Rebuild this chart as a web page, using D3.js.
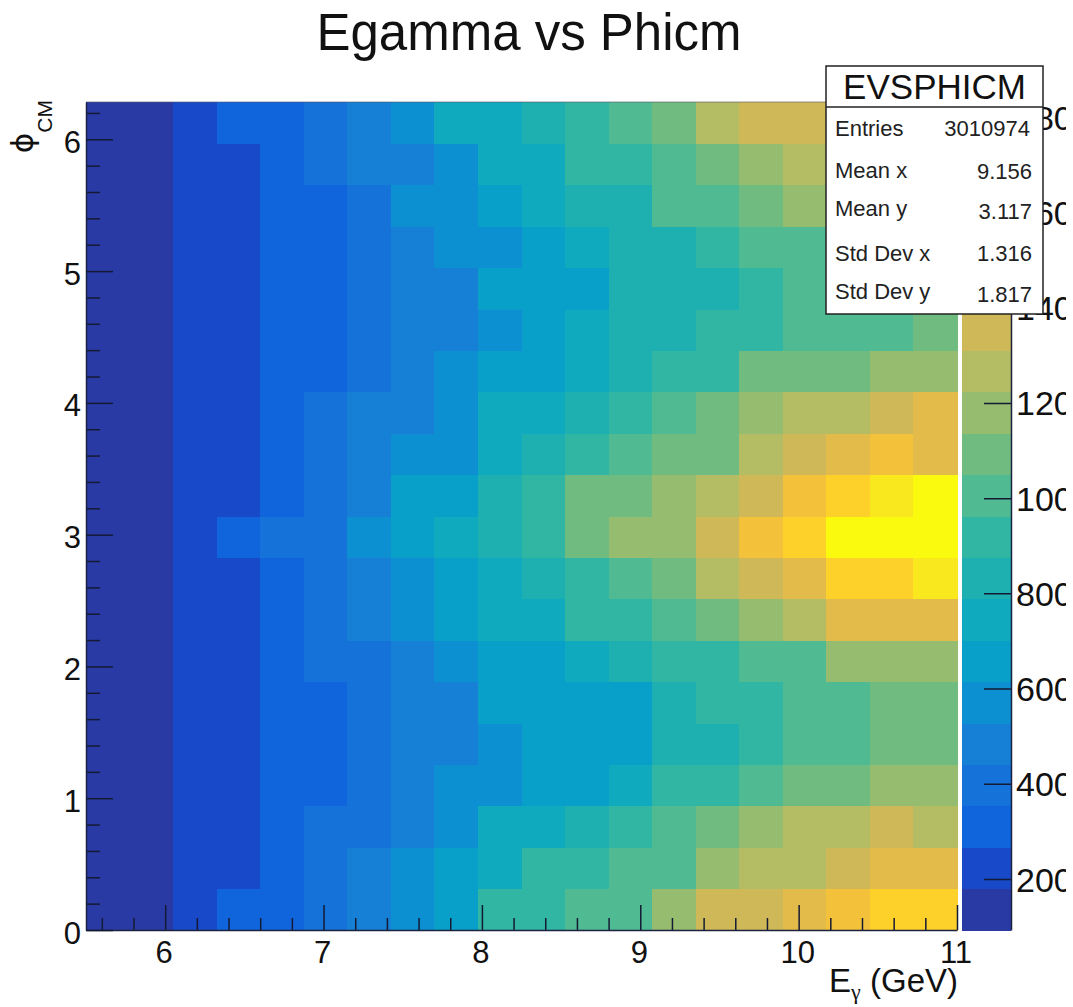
<!DOCTYPE html>
<html>
<head>
<meta charset="utf-8">
<title>Egamma vs Phicm</title>
<script src="https://d3js.org/d3.v7.min.js"></script>
<style>
  html, body { margin: 0; padding: 0; background: #fff; }
  svg { display: block; }
  text { font-family: "Liberation Sans", Arial, sans-serif; fill: #111; }
  .axis path { stroke: #1c2340; stroke-width: 1.5; }
  .axis line { stroke: #141a33; stroke-width: 1.5; }
  .axis text { font-family: "Liberation Sans", Arial, sans-serif; font-size: 31px; fill: #111; }
  .axis.zaxis text { font-size: 34px; }
</style>
</head>
<body>
<svg id="chart" width="1073" height="1007"></svg>
<script>
// counts per bin, one list per phi row, lowest phi first, 20 Egamma bins each
var row00 = [130,130,220,310,310,390,480,570,650,920,920,1000,1000,1180,1350,1350,1440,1530,1610,1610]
var row01 = [130,130,220,220,310,390,480,570,650,740,920,920,1000,1000,1180,1260,1260,1350,1440,1440]
var row02 = [130,130,220,220,310,390,390,480,570,740,740,830,920,1000,1090,1180,1260,1260,1350,1260]
var row03 = [130,130,220,220,310,310,390,480,570,570,650,650,740,920,920,1000,1090,1090,1180,1180]
var row04 = [130,130,220,220,310,310,390,480,480,570,650,650,650,830,830,920,1000,1000,1090,1090]
var row05 = [130,130,220,220,310,310,390,480,480,650,650,650,650,830,920,920,1000,1000,1090,1090]
var row06 = [130,130,220,220,310,390,390,480,570,650,650,740,830,920,920,1000,1000,1180,1180,1180]
var row07 = [130,130,220,220,310,390,480,570,650,740,740,920,920,1000,1090,1180,1260,1440,1440,1440]
var row08 = [130,130,220,220,310,390,480,570,650,740,830,920,1000,1090,1260,1350,1440,1610,1610,1700]
var row09 = [130,130,220,310,390,390,570,650,740,830,920,1090,1180,1180,1350,1530,1610,1790,1790,1790]
var row10 = [130,130,220,220,310,390,480,650,650,830,920,1090,1090,1180,1260,1350,1530,1610,1700,1790]
var row11 = [130,130,220,220,310,390,480,570,570,740,830,920,1000,1090,1090,1260,1350,1440,1530,1440]
var row12 = [130,130,220,220,310,390,480,480,570,740,740,830,920,1000,1090,1180,1260,1260,1350,1440]
var row13 = [130,130,220,220,310,310,390,480,570,650,650,740,830,920,920,1090,1090,1090,1180,1180]
var row14 = [130,130,220,220,310,310,390,480,480,570,650,740,830,830,920,920,1000,1000,1000,1090]
var row15 = [130,130,220,220,310,310,390,480,480,650,650,650,830,830,830,920,1000,1000,1000,1000]
var row16 = [130,130,220,220,310,310,390,480,570,570,650,740,830,830,920,1000,1000,1000,1090,1090]
var row17 = [130,130,220,220,310,310,390,570,570,650,740,830,830,1000,1000,1090,1180,1180,1180,1180]
var row18 = [130,130,220,220,310,390,480,480,570,740,740,920,920,1000,1090,1180,1260,1260,1260,1260]
var row19 = [130,130,220,310,310,390,480,570,740,740,830,920,1000,1090,1260,1350,1350,1350,1350,1350]
var rows = [row00,row01,row02,row03,row04,row05,row06,row07,row08,row09,
            row10,row11,row12,row13,row14,row15,row16,row17,row18,row19]

var xDomain = [5.5, 11]
var yDomain = [0, 6.283]
var zDomain = [93, 1832]
var xTicks = [6, 7, 8, 9, 10, 11]
var yTicks = [0, 1, 2, 3, 4, 5, 6]
var zTicks = [200, 400, 600, 800, 1000, 1200, 1400, 1600, 1800]

// ROOT kBird, cut into 20 contours
var palette = ['#2a3aa5','#1849c9','#1065dc','#1472d9','#1580d5','#0d90d2','#08a0c8','#10aabe',
  '#1eb0b0','#30b6a2','#50ba92','#70bc80','#96bc70','#b4bc64','#ceb858','#e3bb4a',
  '#f3c23a','#fdd02a','#fae81e','#fafa0f']

var statNames = ['Entries', 'Mean x', 'Mean y', 'Std Dev x', 'Std Dev y']
var statValues = ['3010974', '9.156', '3.117', '1.316', '1.817']

var svg = d3.select('#chart')
var margin = {top: 102, left: 86, bottom: 930, right: 957}

var x = d3.scaleLinear().domain(xDomain).range([margin.left, margin.right])
var y = d3.scaleLinear().domain(yDomain).range([margin.bottom, margin.top])
var z = d3.scaleLinear().domain(zDomain).range([margin.bottom, margin.top])
var color = d3.scaleQuantize().domain(zDomain).range(palette)

var xStep = (xDomain[1] - xDomain[0]) / rows[0].length
var yStep = (yDomain[1] - yDomain[0]) / rows.length

// heat map cells
rows.forEach(function(row, r) {
  svg.append('g')
    .attr('shape-rendering', 'crispEdges')
    .selectAll('rect')
    .data(row)
    .join('rect')
    .attr('x', function(d, i) { return x(xDomain[0] + i * xStep) })
    .attr('width', function(d, i) { return x(xDomain[0] + (i + 1) * xStep) - x(xDomain[0] + i * xStep) + 0.5 })
    .attr('y', y(yDomain[0] + (r + 1) * yStep))
    .attr('height', y(yDomain[0] + r * yStep) - y(yDomain[0] + (r + 1) * yStep) + 0.5)
    .attr('fill', function(d) { return color(d) })
})

// thin frame on top of the plot
svg.append('line')
  .attr('x1', margin.left).attr('x2', margin.right)
  .attr('y1', margin.top).attr('y2', margin.top)
  .attr('stroke', '#556').attr('stroke-width', 1).attr('stroke-opacity', 0.6)

// minor ticks
var xMinor = d3.range(5.6, 11, 0.2).filter(function(v) { return Math.abs(v - Math.round(v)) > 0.05 })
var yMinor = d3.range(0.2, 6.28, 0.2).filter(function(v) { return Math.abs(v - Math.round(v)) > 0.05 })

svg.append('g').attr('class', 'axis')
  .attr('transform', 'translate(0,' + margin.bottom + ')')
  .call(d3.axisBottom(x).tickValues(xMinor).tickSize(-12).tickFormat(''))
  .select('.domain').remove()
svg.append('g').attr('class', 'axis')
  .attr('transform', 'translate(' + margin.left + ',0)')
  .call(d3.axisLeft(y).tickValues(yMinor).tickSize(-14).tickFormat(''))
  .select('.domain').remove()

// major axes
var xAxis = svg.append('g').attr('class', 'axis')
  .attr('transform', 'translate(0,' + margin.bottom + ')')
  .call(d3.axisBottom(x).tickValues(xTicks).tickSizeInner(-25).tickSizeOuter(0).tickFormat(d3.format('d')))
xAxis.selectAll('text').attr('x', -1.5).attr('y', 33).attr('dy', 0)

var yAxis = svg.append('g').attr('class', 'axis')
  .attr('transform', 'translate(' + margin.left + ',0)')
  .call(d3.axisLeft(y).tickValues(yTicks).tickSizeInner(-27).tickSizeOuter(0).tickFormat(d3.format('d')))
yAxis.selectAll('text').attr('x', -5).attr('y', 13).attr('dy', 0)

// colour bar
var barLeft = 961.5, barRight = 1011
svg.append('defs').append('clipPath').attr('id', 'zclip')
  .append('rect').attr('x', barLeft).attr('y', 0).attr('width', 1066 - barLeft).attr('height', 1007)

svg.append('g')
  .attr('shape-rendering', 'crispEdges')
  .selectAll('rect')
  .data(palette)
  .join('rect')
  .attr('x', barLeft)
  .attr('width', barRight - barLeft)
  .attr('y', function(d) { return z(color.invertExtent(d)[1]) })
  .attr('height', function(d) { return z(color.invertExtent(d)[0]) - z(color.invertExtent(d)[1]) + 0.5 })
  .attr('fill', function(d) { return d })

// labels run off the canvas in the original, the clip sits on an outer group
var zAxis = svg.append('g')
  .attr('clip-path', 'url(#zclip)')
  .append('g').attr('class', 'axis zaxis')
  .attr('transform', 'translate(' + barRight + ',0)')
zAxis.call(d3.axisRight(z).tickValues(zTicks).tickSizeInner(-27).tickSizeOuter(0).tickFormat(d3.format('d')))
zAxis.selectAll('text').attr('x', 5).attr('y', 12).attr('dy', 0).attr('text-anchor', 'start')

// titles
svg.append('text')
  .attr('x', 529).attr('y', 50)
  .attr('text-anchor', 'middle')
  .style('font-size', '51px')
  .text('Egamma vs Phicm')

var xTitle = svg.append('text')
  .attr('x', 958).attr('y', 992)
  .attr('text-anchor', 'end')
  .style('font-size', '33px')
xTitle.append('tspan').text('E')
xTitle.append('tspan').attr('dy', 7).style('font-size', '22px')
  .style('font-family', '"Liberation Serif", serif').text('γ')
xTitle.append('tspan').attr('dy', -7).text(' (GeV)')

var yTitle = svg.append('text')
  .attr('transform', 'translate(33,100) rotate(-90)')
  .attr('text-anchor', 'end')
yTitle.append('tspan').style('font-family', '"DejaVu Sans", sans-serif').style('font-size', '31px').text('ϕ')
yTitle.append('tspan').attr('dy', 19).style('font-size', '21px').text('CM')

// stats box
var box = svg.append('g')
box.append('rect')
  .attr('x', 826).attr('y', 66).attr('width', 217).attr('height', 248)
  .attr('fill', '#fff').attr('stroke', '#222').attr('stroke-width', 1.5)
box.append('line')
  .attr('x1', 826).attr('x2', 1043).attr('y1', 107).attr('y2', 107)
  .attr('stroke', '#222').attr('stroke-width', 1.5)
box.append('text')
  .attr('x', 934.5).attr('y', 99)
  .attr('text-anchor', 'middle')
  .style('font-size', '35px')
  .text('EVSPHICM')

var nameBase = [136, 178, 216, 261, 299]
var valueBase = [136, 179, 219, 261, 302]
var valueEnd = [1030, 1032, 1032, 1032, 1032]
box.selectAll('.stat-name')
  .data(statNames)
  .join('text')
  .attr('class', 'stat-name')
  .attr('x', 835)
  .attr('y', function(d, i) { return nameBase[i] })
  .style('font-size', '22px').style('fill', '#222')
  .text(function(d) { return d })
box.selectAll('.stat-value')
  .data(statValues)
  .join('text')
  .attr('class', 'stat-value')
  .attr('x', function(d, i) { return valueEnd[i] })
  .attr('y', function(d, i) { return valueBase[i] })
  .attr('text-anchor', 'end')
  .style('font-size', '22px').style('fill', '#222')
  .text(function(d) { return d })
</script>
</body>
</html>
